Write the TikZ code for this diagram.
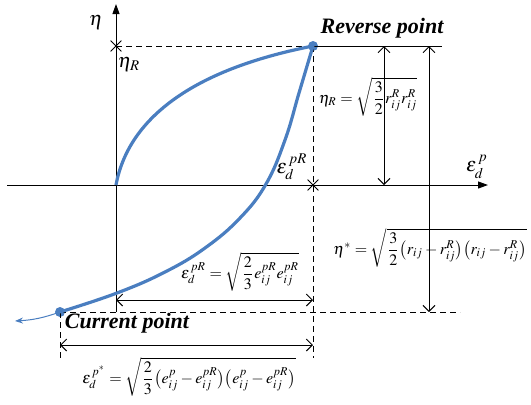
\documentclass[tikz,border=0pt]{standalone}
\usepackage{amsmath}
\usepackage{mathptmx}
\usepackage{fontspec}
\setmainfont{Liberation Serif}
\usetikzlibrary{arrows.meta,shapes.misc}
\definecolor{curveblue}{RGB}{74,126,192}

\begin{document}
\begin{tikzpicture}[x=0.5pt, y=-0.5pt,
  % Node styles
  xmark/.style={cross out, draw, thin, minimum size=5pt, inner sep=0pt},
  dot/.style={circle, fill=curveblue, inner sep=0pt, minimum size=5pt},
  title/.style={font=\fontsize{11}{13}\selectfont\bfseries\itshape},
  lbl/.style={inner sep=1pt},
  formula/.style={inner sep=1pt, font=\footnotesize},
  % Edge styles
  axis/.style={-{Triangle[length=5pt, width=3.5pt]}, line width=0.5pt},
  guide/.style={line width=0.45pt, dash pattern=on 3pt off 2pt},
  dim/.style={{Straight Barb[length=3pt, width=6pt]}-{Straight Barb[length=3pt, width=6pt]}, line width=0.5pt},
  loadpath/.style={curveblue, line width=1.6pt},
]
\useasboundingbox (0,0) rectangle (531,404);

% === AXES ===
\coordinate (O)    at (116,185);
\coordinate (yBot) at (116,312);
\coordinate (yTop) at (116,4);
\coordinate (xLft) at (7,185);
\coordinate (xRgt) at (488,185);
\draw[axis] (yBot) -- (yTop);
\draw[axis] (xLft) -- (xRgt);
\node[lbl] (etaAx) at (96,22)  {$\eta$};
\node[lbl] (epsAx) at (477,167) {$\varepsilon_d^{\,p}$};

% === POINTS ===
\node[dot]   (R)   at (313,46)  {};
\node[dot]   (C)   at (60,312)  {};
\node[xmark] (mEta) at (116,46) {};
\node[xmark] (mEps) at (313,185) {};
\node[lbl] (etaR) at (129,64)  {$\eta_R$};
\node[lbl] (epsR) at (292,167) {$\varepsilon_d^{\,pR}$};
\node[title] (revLbl) at (382,28)  {Reverse point};
\node[title] (curLbl) at (127,323) {Current point};

% === GUIDE LINES ===
\coordinate (rEnd) at (442,46);
\coordinate (rDn)  at (313,358);
\coordinate (cEnd) at (460,312);
\coordinate (cDn)  at (60,358);
\draw[guide] (mEta.center) -- (R.center);
\draw[line width=0.5pt] (R.center) -- (rEnd);
\draw[guide] (R.center) -- (rDn);
\draw[guide] (C.center) -- (cEnd);
\draw[guide] (C.center) -- (cDn);

% === LOADING PATH ===
\draw[loadpath] (O) .. controls (128,120) and (190,70) .. (R.center);
\draw[loadpath] plot[smooth, tension=0.7] coordinates {(R.center) (299,93) (285,140) (266,184) (240,218) (205,248) (165,272) (117,293) (C.center)};
\draw[curveblue, line width=0.5pt, -{Stealth[length=4pt, width=3pt]}] (C.center) to[bend left=8] (15,321);

% === DIMENSIONS ===
\coordinate (a1) at (384,46);  \coordinate (a2) at (384,185);
\coordinate (b1) at (429,46);  \coordinate (b2) at (429,312);
\coordinate (c1) at (116,300); \coordinate (c2) at (313,300);
\coordinate (d1) at (60,345);  \coordinate (d2) at (313,345);
\draw[dim] (a1) -- (a2);
\draw[dim] (b1) -- (b2);
\draw[dim] (c1) -- (c2);
\draw[dim] (d1) -- (d2);

% === FORMULAS ===
\node[formula] (fEtaR) at (368,97)  {$\eta_R=\sqrt{\dfrac{3}{2}r_{ij}^{R}r_{ij}^{R}}$};
\node[formula] (fEtaS) at (430,248) {$\eta^{*}=\sqrt{\dfrac{3}{2}\bigl(r_{ij}-r_{ij}^{R}\bigr)\bigl(r_{ij}-r_{ij}^{R}\bigr)}$};
\node[formula] (fEpsR) at (240,272) {$\varepsilon_d^{\,pR}=\sqrt{\dfrac{2}{3}e_{ij}^{pR}e_{ij}^{pR}}$};
\node[formula] (fEpsS) at (189,377) {$\varepsilon_d^{\,p^*}=\sqrt{\dfrac{2}{3}\bigl(e_{ij}^{p}-e_{ij}^{pR}\bigr)\bigl(e_{ij}^{p}-e_{ij}^{pR}\bigr)}$};

\end{tikzpicture}
\end{document}
